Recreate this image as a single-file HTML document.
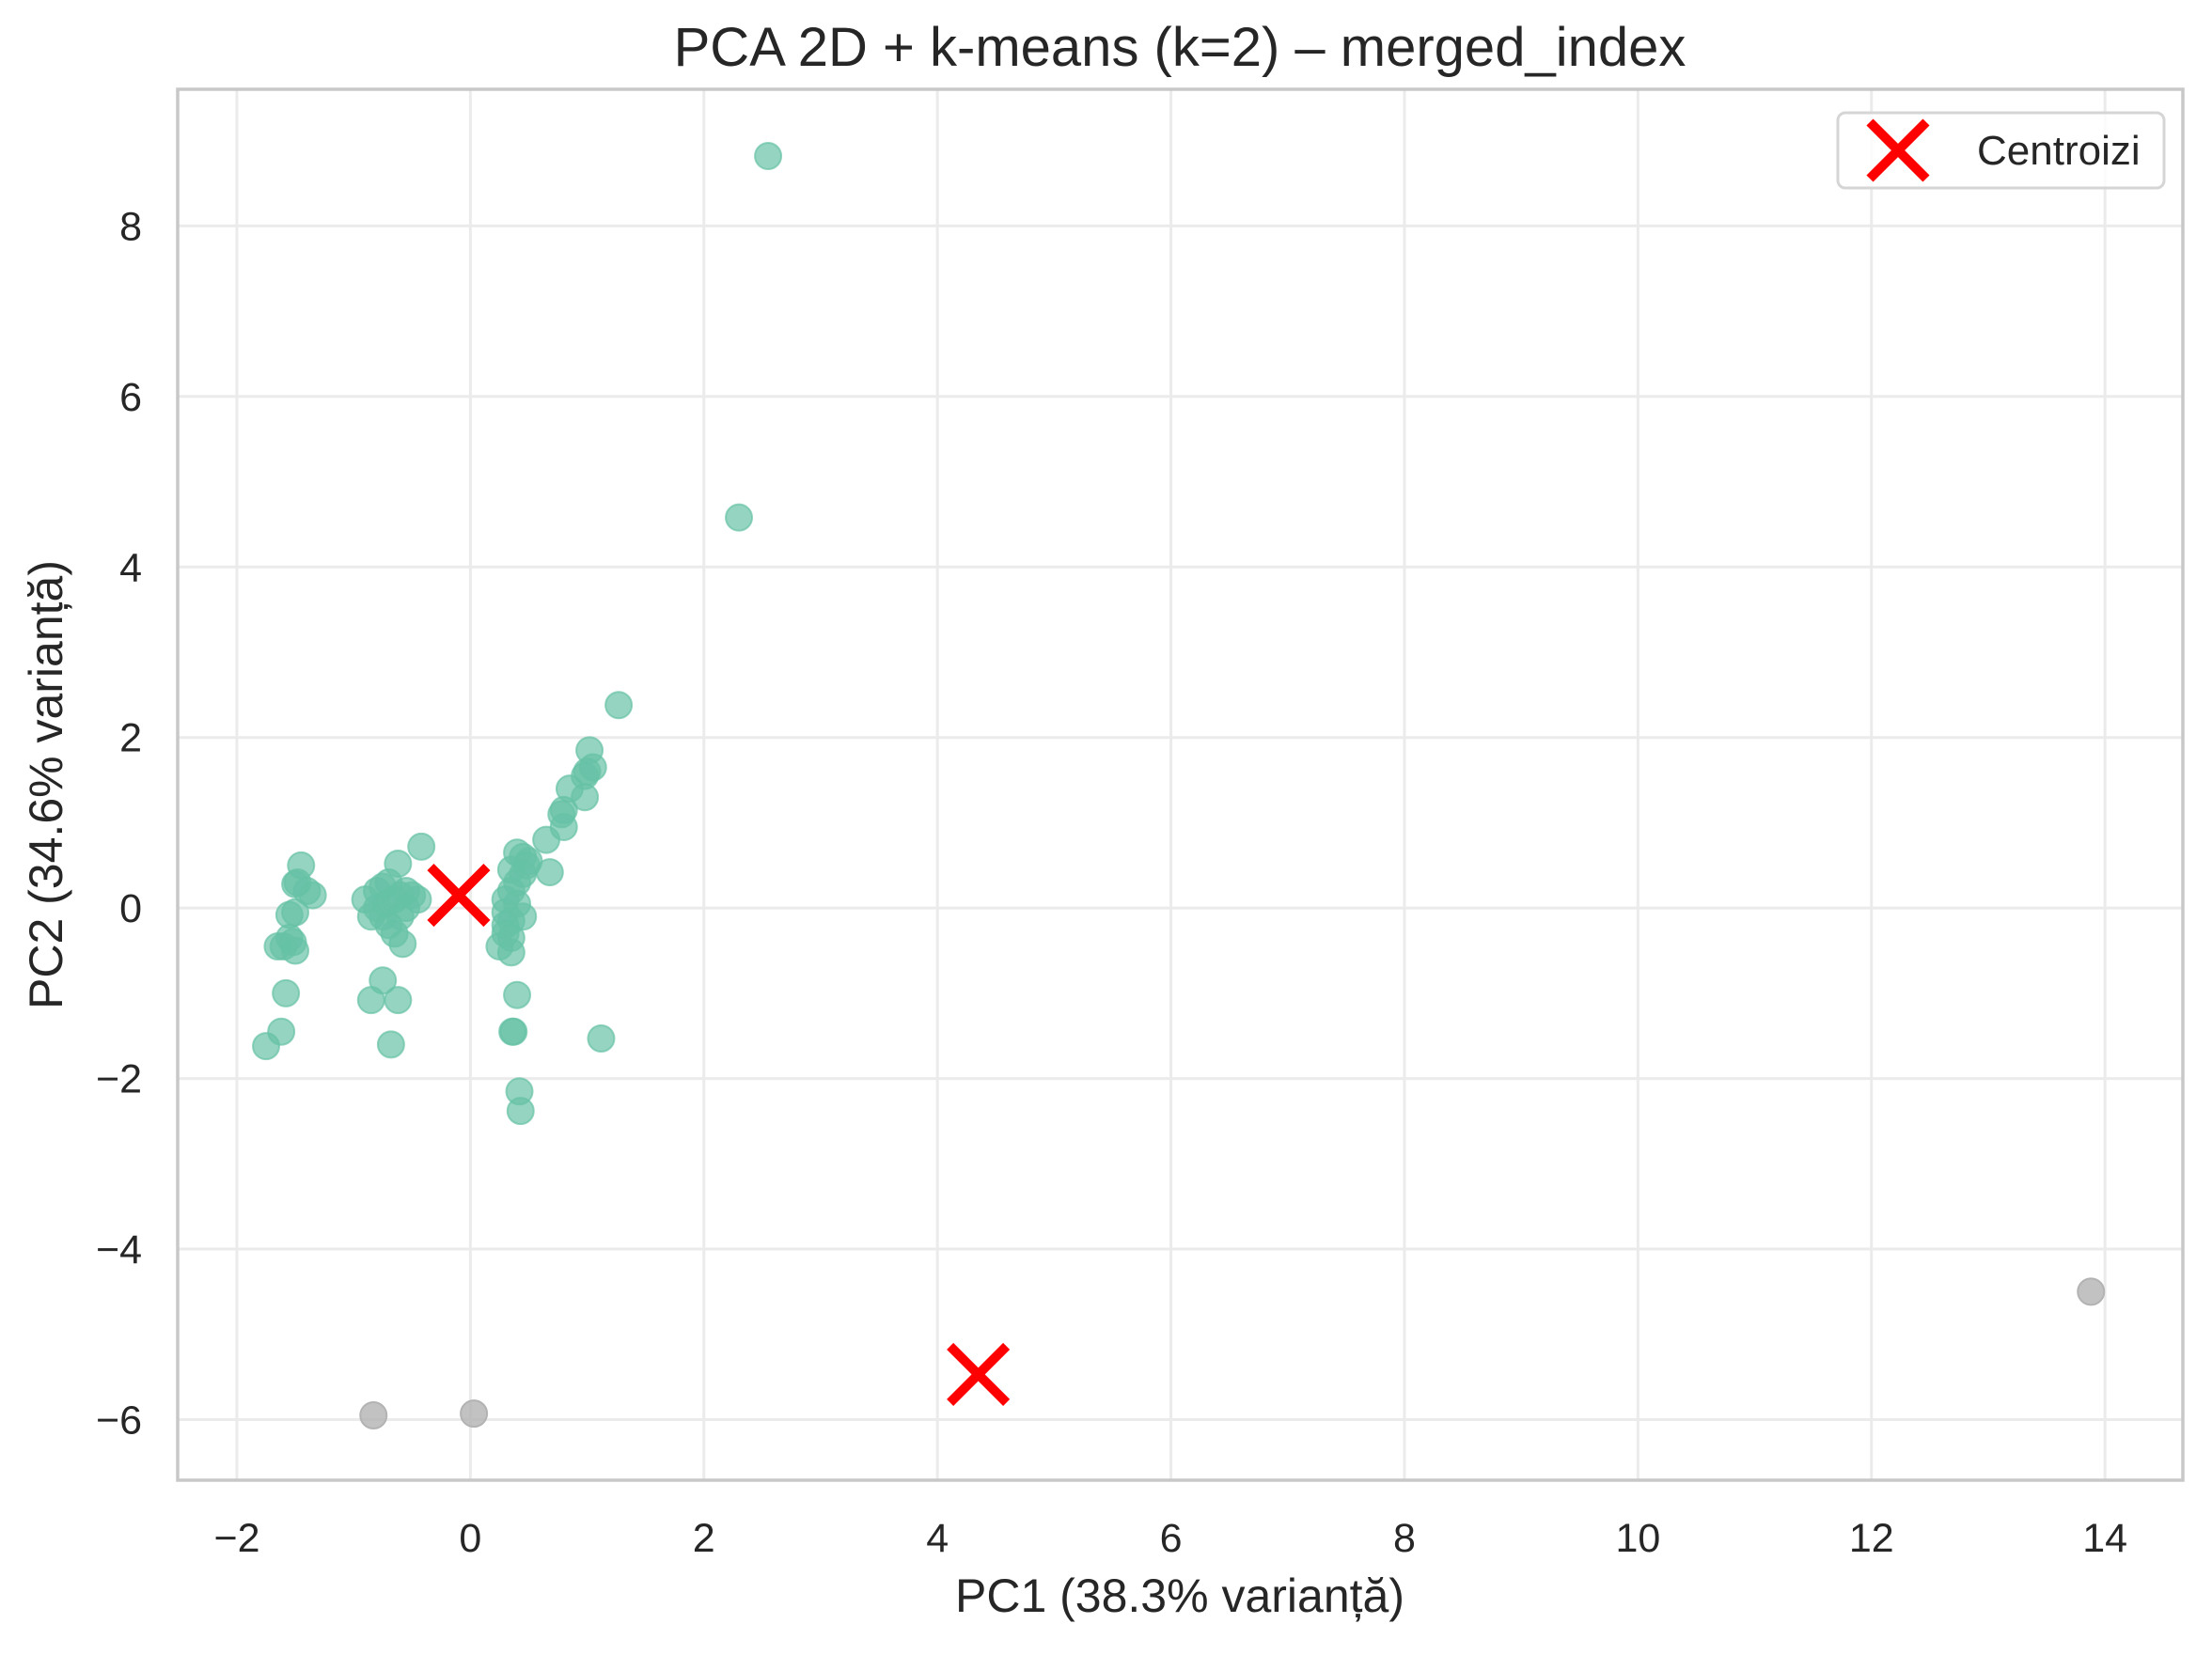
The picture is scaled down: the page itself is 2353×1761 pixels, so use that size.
<!DOCTYPE html>
<html><head><meta charset="utf-8"><style>
body{margin:0;background:#fff}
svg text{font-family:"Liberation Sans","DejaVu Sans",sans-serif;fill:#262626}
</style></head><body>
<svg id="chart" width="2353" height="1756" xmlns="http://www.w3.org/2000/svg">
<rect width="2353" height="1756" fill="#fff"/>
<g id="grid"></g>
<g id="pts"></g>
<g id="cents"></g>
<rect x="189" y="95" width="2133" height="1480" fill="none" stroke="#c8c8c8" stroke-width="3.5"/>
<g id="ticks"></g>
<text x="1255" y="70" font-size="58" text-anchor="middle">PCA 2D + k-means (k=2) – merged_index</text>
<text x="1255" y="1715" font-size="50" text-anchor="middle">PC1 (38.3% varianță)</text>
<text transform="translate(66,835) rotate(-90)" font-size="50" text-anchor="middle">PC2 (34.6% varianță)</text>
<g>
<rect x="1955" y="120" width="347" height="80" rx="8" fill="#fff" fill-opacity="0.8" stroke="#d5d5d5" stroke-width="3"/>
<path d="M1989 130 L2049 190 M2049 130 L1989 190" stroke="#ff0000" stroke-width="10"/>
<text x="2103" y="175" font-size="44">Centroizi</text>
</g>
</svg>
<script>
const xTicks=[-2,0,2,4,6,8,10,12,14];
const yTicks=[-6,-4,-2,0,2,4,6,8];
const clusterA_x=[-1.45,-1.5,-1.48,-1.35,-1.4,-1.55,-1.5,-1.55,-1.5,-1.65,-1.6,-1.58,-1.62,-1.75,-1.52,
-0.9,-0.85,-0.8,-0.75,-0.7,-0.65,-0.6,-0.55,-0.5,-0.45,-0.7,-0.65,-0.6,-0.75,-0.8,-0.62,-0.42,-0.58,-0.75,-0.85,-0.62,-0.68,-0.72,-0.55,
0.35,0.4,0.45,0.5,0.45,0.4,0.35,0.3,0.3,0.35,0.3,0.35,0.25,0.35,0.45,0.4,0.4,0.36,0.37,0.42,0.43,0.48,0.3,
0.65,0.68,0.78,0.8,0.8,0.85,0.98,0.98,1.0,1.05,1.02,1.27,1.12,2.3,2.55];
const clusterA_y=[0.5,0.28,0.3,0.15,0.2,-0.08,-0.05,-0.35,-0.5,-0.45,-0.45,-1.0,-1.45,-1.62,-0.4,
0.1,-0.1,0.2,0.25,0.3,0.1,0.15,0,0.15,0.1,-0.2,-0.3,-0.1,-0.1,0,0.52,0.72,-0.42,-0.85,-1.08,-1.08,-1.6,0.05,0.2,
0.45,0.65,0.6,0.55,0.4,0.3,0.2,0.1,-0.05,-0.15,-0.3,-0.35,-0.45,-0.52,-0.1,0.05,-1.02,-1.45,-1.45,-2.15,-2.38,0.5,-0.2,
0.8,0.42,1.1,1.15,0.95,1.4,1.3,1.55,1.6,1.65,1.85,2.38,-1.53,4.58,8.82];
const clusterB_x=[-0.83,0.03,13.88];
const clusterB_y=[-5.95,-5.93,-4.5];
const centroid_x=[-0.1,4.35];
const centroid_y=[0.15,-5.47];
const L=189,R=2322,T=95,B=1575,x0=-2.507,x1=14.667,y0=-6.711,y1=9.603;
const sx=v=>L+(v-x0)/(x1-x0)*(R-L), sy=v=>B-(v-y0)/(y1-y0)*(B-T);
const NS='http://www.w3.org/2000/svg';
function mk(tag,parent,attrs){const e=document.createElementNS(NS,tag);for(const k in attrs)e.setAttribute(k,attrs[k]);parent.appendChild(e);return e;}
const g=document.getElementById('grid'),tk=document.getElementById('ticks');
xTicks.forEach(t=>{const X=sx(t);
 const l=mk('line',g,{x1:X,x2:X,y1:T,y2:B,stroke:'#ebebeb','stroke-width':3});
 
 
 const s=mk('text',tk,{x:X,y:B+76,'font-size':43,'text-anchor':'middle'});s.textContent=(t<0?'−':'')+Math.abs(t);
 
 
});
yTicks.forEach(t=>{const Y=sy(t);
 const l=mk('line',g,{x1:L,x2:R,y1:Y,y2:Y,stroke:'#ebebeb','stroke-width':3});
 
 
 const s=mk('text',tk,{x:L-38,y:Y+15,'font-size':43,'text-anchor':'end'});s.textContent=(t<0?'−':'')+Math.abs(t);
 
 
});
const p=document.getElementById('pts');
clusterA_x.forEach((v,i)=>{const c=mk('circle',p,{cx:sx(v),cy:sy(clusterA_y[i]),r:14,fill:'#66c2a5','fill-opacity':0.7,stroke:'#66c2a5','stroke-opacity':0.7,'stroke-width':2});
 
 });
clusterB_x.forEach((v,i)=>{const c=mk('circle',p,{cx:sx(v),cy:sy(clusterB_y[i]),r:14,fill:'#b3b3b3','fill-opacity':0.8,stroke:'#b3b3b3','stroke-width':2});
 
 });
const cg=document.getElementById('cents');
centroid_x.forEach((v,i)=>{const X=sx(v),Y=sy(centroid_y[i]),h=30;
 const c=mk('path',cg,{d:`M${X-h} ${Y-h} L${X+h} ${Y+h} M${X+h} ${Y-h} L${X-h} ${Y+h}`,stroke:'#ff0000','stroke-width':10});
 
 });
</script>
</body></html>
